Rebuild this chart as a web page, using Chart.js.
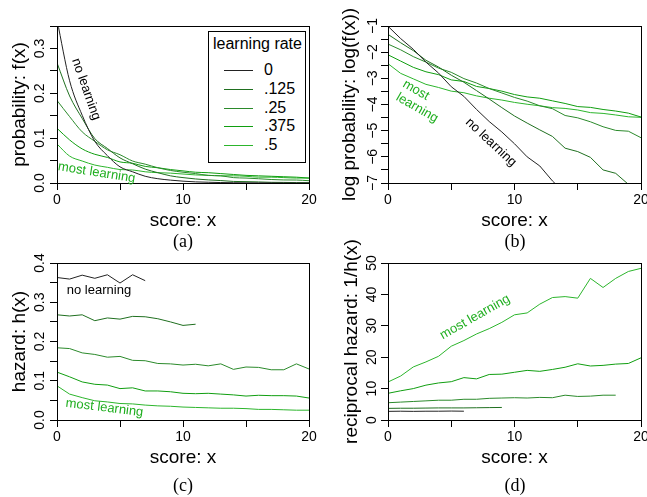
<!DOCTYPE html>
<html lang="en">
<head>
<meta charset="UTF-8">
<title>learning rate</title>
<script src="https://cdn.jsdelivr.net/npm/chart.js@4.4.1/dist/chart.umd.min.js"></script>
<style>
  body { margin:0; background:#fff; width:647px; height:497px; position:relative; overflow:hidden;
         font-family:"Liberation Sans", Arial, sans-serif; }
  canvas { position:absolute; }
  .cap { position:absolute; font-family:"Liberation Serif", serif; font-size:18px; transform:translate(-50%,-50%); }
  #legend { position:absolute; left:208px; top:31px; width:96px; height:130px; border:1px solid #000; background:#fff; font-size:16px; }
  #legend .ttl { position:absolute; left:4px; top:3px; white-space:nowrap; }
  #legend .ln { position:absolute; left:15px; width:29px; height:0; border-top:1px solid; }
  #legend .lb { position:absolute; left:55px; line-height:18px; }
</style>
</head>
<body>
<canvas id="chartA" width="323" height="250" style="left:0;top:0"></canvas>
<canvas id="chartB" width="324" height="250" style="left:323px;top:0"></canvas>
<canvas id="chartC" width="323" height="267" style="left:0;top:230px"></canvas>
<canvas id="chartD" width="324" height="267" style="left:323px;top:230px"></canvas>
<div id="legend"><div class="ttl">learning rate</div></div>
<div class="cap" style="left:183px;top:241px">(a)</div>
<div class="cap" style="left:515px;top:241px">(b)</div>
<div class="cap" style="left:183px;top:485px">(c)</div>
<div class="cap" style="left:515px;top:485px">(d)</div>

<script>
// score values on the x axis
var scores = [0,1,2,3,4,5,6,7,8,9,10,11,12,13,14,15,16,17,18,19,20]
var rates = ["0", ".125", ".25", ".375", ".5"]
var rateColors = ["#222222", "#1f6f1f", "#2b8a2b", "#109e10", "#2cb52c"]
var noteGreen = "#1fae1f"

// (a) probability f(x)
var prob0   = [0.364,0.228,0.151,0.093,0.061,0.036,0.025,0.015,0.0096,0.0064,0.0041,0.0025,0.0017,0.0010,0.0006,0.0004,0.0003,0.0002,0.0001,0.0001,0.0001]
var prob125 = [0.268,0.194,0.144,0.099,0.077,0.056,0.043,0.031,0.023,0.016,0.012,0.009,0.0069,0.0054,0.0035,0.0030,0.0024,0.0015,0.0013,0.0009,0.0007]
var prob25  = [0.184,0.148,0.114,0.093,0.074,0.063,0.049,0.042,0.034,0.028,0.024,0.021,0.017,0.016,0.012,0.011,0.0095,0.0078,0.0068,0.0066,0.0051]
var prob375 = [0.122,0.096,0.076,0.064,0.057,0.047,0.044,0.037,0.034,0.030,0.027,0.024,0.023,0.021,0.019,0.017,0.016,0.015,0.014,0.013,0.011]
var prob5   = [0.087,0.060,0.049,0.040,0.035,0.030,0.029,0.025,0.023,0.022,0.020,0.018,0.017,0.016,0.016,0.015,0.013,0.013,0.012,0.011,0.011]

// (b) log probability log(f(x))
var logp0   = [-1.01,-1.48,-1.89,-2.38,-2.80,-3.32,-3.69,-4.19,-4.65,-5.05,-5.50,-6.00,-6.35,-6.92,-7.40]
var logp125 = [-1.32,-1.64,-1.94,-2.31,-2.57,-2.88,-3.15,-3.47,-3.79,-4.12,-4.44,-4.71,-4.97,-5.22,-5.67,-5.80,-6.02,-6.50,-6.63,-7.05,-7.30]
var logp25  = [-1.69,-1.91,-2.17,-2.38,-2.61,-2.77,-3.01,-3.18,-3.39,-3.56,-3.73,-3.87,-4.05,-4.16,-4.42,-4.51,-4.66,-4.85,-4.99,-5.02,-5.27]
var logp375 = [-2.10,-2.34,-2.58,-2.75,-2.86,-3.06,-3.12,-3.31,-3.39,-3.49,-3.62,-3.71,-3.76,-3.86,-3.96,-4.08,-4.11,-4.19,-4.25,-4.33,-4.48]
var logp5   = [-2.44,-2.81,-3.02,-3.23,-3.35,-3.49,-3.55,-3.67,-3.76,-3.83,-3.92,-3.99,-4.05,-4.12,-4.15,-4.21,-4.31,-4.34,-4.40,-4.47,-4.49]

// (c) hazard h(x)
var haz0   = [0.363,0.359,0.369,0.361,0.370,0.349,0.370,0.355]
var haz125 = [0.268,0.265,0.268,0.253,0.260,0.257,0.264,0.263,0.258,0.250,0.241,0.244]
var haz25  = [0.184,0.182,0.171,0.167,0.160,0.162,0.152,0.151,0.144,0.143,0.140,0.142,0.138,0.143,0.129,0.135,0.134,0.128,0.128,0.143,0.130]
var haz375 = [0.122,0.110,0.097,0.091,0.089,0.080,0.082,0.074,0.074,0.072,0.068,0.067,0.068,0.066,0.064,0.061,0.063,0.062,0.062,0.061,0.056]
var haz5   = [0.087,0.066,0.057,0.049,0.046,0.042,0.041,0.038,0.036,0.035,0.033,0.032,0.031,0.030,0.030,0.029,0.027,0.027,0.026,0.025,0.025]

// (d) reciprocal hazard 1/h(x)
var rec0   = [2.75,2.8,2.75,2.8,2.8,2.85,2.8]
var rec125 = [3.7,3.75,3.75,3.8,3.85,3.85,3.85,3.9,3.95,4.0]
var rec25  = [5.5,5.7,5.9,6.1,6.3,6.3,6.6,6.6,6.9,7.0,7.1,7.0,7.2,7.1,7.9,7.5,7.6,7.9,7.9]
var rec375 = [8.5,9.3,10.0,11.1,11.8,12.2,13.5,13.1,14.5,14.6,15.2,15.8,15.5,16.1,16.8,17.9,17.2,17.4,17.8,18.0,19.8]
var rec5   = [12.1,14.0,16.9,18.5,20.3,23.5,25.3,27.4,29.1,31.1,33.5,34.1,36.9,39.0,39.3,38.8,45.1,42.2,45.1,47.3,48.3]

// legend entries
var legend = document.getElementById("legend")
rates.forEach(function (r, i) {
  var ln = document.createElement("div")
  ln.className = "ln"
  ln.style.top = (38 + i * 18.8) + "px"
  ln.style.borderColor = rateColors[i]
  legend.appendChild(ln)
  var lb = document.createElement("div")
  lb.className = "lb"
  lb.style.top = (29 + i * 18.8) + "px"
  lb.textContent = r
  legend.appendChild(lb)
})

Chart.defaults.font.family = '"Liberation Sans", Arial, sans-serif'
Chart.defaults.color = "#000"

function series(lists, smooth) {
  return lists.map(function (vals, i) {
    return {
      data: vals.map(function (v, j) { return {x: scores[j], y: v} }),
      borderColor: rateColors[i],
      borderWidth: 1,
      pointRadius: 0,
      fill: false,
      cubicInterpolationMode: smooth ? "monotone" : "default",
      tension: 0
    }
  })
}

var tenths = function (v) {
  var r = Math.round(v * 100)
  return r % 10 === 0 ? (r / 100).toFixed(1) : ""
}

// box round the plot region
var frame = {
  id: "frame",
  afterDatasetsDraw: function (chart) {
    var a = chart.chartArea, ctx = chart.ctx
    ctx.save()
    ctx.strokeStyle = "#000"
    ctx.lineWidth = 1
    ctx.strokeRect(a.left + 0.5, a.top + 0.5, a.right - a.left, a.bottom - a.top)
    ctx.restore()
  }
}

function notes(list) {
  return {
    id: "notes",
    afterDraw: function (chart) {
      var ctx = chart.ctx, x = chart.scales.x, y = chart.scales.y
      list.forEach(function (n) {
        ctx.save()
        ctx.translate(x.getPixelForValue(n.x), y.getPixelForValue(n.y))
        ctx.rotate(n.rot * Math.PI / 180)
        ctx.font = '13px "Liberation Sans", Arial, sans-serif'
        ctx.fillStyle = n.color
        ctx.textAlign = "center"
        ctx.textBaseline = "middle"
        ctx.fillText(n.text, 0, 0)
        ctx.restore()
      })
    }
  }
}

function makeChart(id, o) {
  new Chart(id, {
    type: "line",
    data: {datasets: series(o.lists, o.smooth)},
    options: {
      responsive: false,
      animation: false,
      devicePixelRatio: 1,
      events: [],
      layout: {padding: o.pad},
      plugins: {legend: {display: false}, tooltip: {enabled: false}},
      scales: {
        x: {
          type: "linear", min: 0, max: 20,
          afterFit: function (s) { s.height = 50; s.paddingLeft = 0; s.paddingRight = 0 },
          border: {display: false},
          grid: {drawOnChartArea: false, tickLength: 7, color: "#000"},
          ticks: {stepSize: 5, autoSkip: false, maxRotation: 0, padding: 2, font: {size: 14},
                  callback: function (v) { return v % 10 === 0 ? String(v) : "" }},
          title: {display: true, text: "score: x", font: {size: 19}, padding: {top: 0, bottom: 1}}
        },
        y: {
          type: "linear", min: o.min, max: o.max,
          afterFit: function (s) { s.width = o.yw; s.paddingTop = 0; s.paddingBottom = 0 },
          border: {display: false},
          grid: {drawOnChartArea: false, tickLength: 7, color: "#000"},
          ticks: {stepSize: o.step, autoSkip: false, minRotation: 90, maxRotation: 90, crossAlign: "center",
                  padding: o.tpad, font: {size: 14}, callback: o.fmt},
          title: {display: true, text: o.ytitle, font: {size: 19}, padding: {top: o.ttop, bottom: 0}}
        }
      }
    },
    plugins: [frame, notes(o.notes)]
  })
}

makeChart("chartA", {
  lists: [prob0, prob125, prob25, prob375, prob5], smooth: true,
  min: 0, max: 0.35, step: 0.05, fmt: tenths, yw: 57, tpad: 0, ttop: 8,
  ytitle: "probability: f(x)",
  pad: {left: 0, top: 26, right: 14, bottom: 17},
  notes: [
    {text: "no learning", x: 2.3, y: 0.209, rot: 70.6, color: "#000"},
    {text: "most learning", x: 3.15, y: 0.023, rot: 9, color: noteGreen}
  ]
})

makeChart("chartB", {
  lists: [logp0, logp125, logp25, logp375, logp5], smooth: false,
  min: -7, max: -1, step: 0.5, yw: 65, tpad: 0, ttop: 15,
  fmt: function (v) { return Number.isInteger(v) ? "\u2212" + Math.abs(v) : "" },
  ytitle: "log probability: log(f(x))",
  pad: {left: 0, top: 26, right: 6, bottom: 17},
  notes: [
    {text: "no learning", x: 8.14, y: -5.45, rot: 43, color: "#000"},
    {text: "most", x: 2.21, y: -3.45, rot: 30, color: noteGreen},
    {text: "learning", x: 2.29, y: -4.13, rot: 30, color: noteGreen}
  ]
})

makeChart("chartC", {
  lists: [haz0, haz125, haz25, haz375, haz5], smooth: false,
  min: 0, max: 0.4, step: 0.05, fmt: tenths, yw: 57, tpad: 0, ttop: 8,
  ytitle: "hazard: h(x)",
  pad: {left: 0, top: 33, right: 14, bottom: 27},
  notes: [
    {text: "no learning", x: 3.33, y: 0.331, rot: 0, color: "#000"},
    {text: "most learning", x: 3.77, y: 0.031, rot: 7, color: noteGreen}
  ]
})

makeChart("chartD", {
  lists: [rec0, rec125, rec25, rec375, rec5], smooth: false,
  min: 0, max: 50, step: 10, yw: 65, tpad: 1, ttop: 17,
  fmt: function (v) { return String(v) },
  ytitle: "reciprocal hazard: 1/h(x)",
  pad: {left: 0, top: 33, right: 6, bottom: 27},
  notes: [
    {text: "most learning", x: 6.88, y: 32.8, rot: -29.6, color: noteGreen}
  ]
})
</script>
</body>
</html>
